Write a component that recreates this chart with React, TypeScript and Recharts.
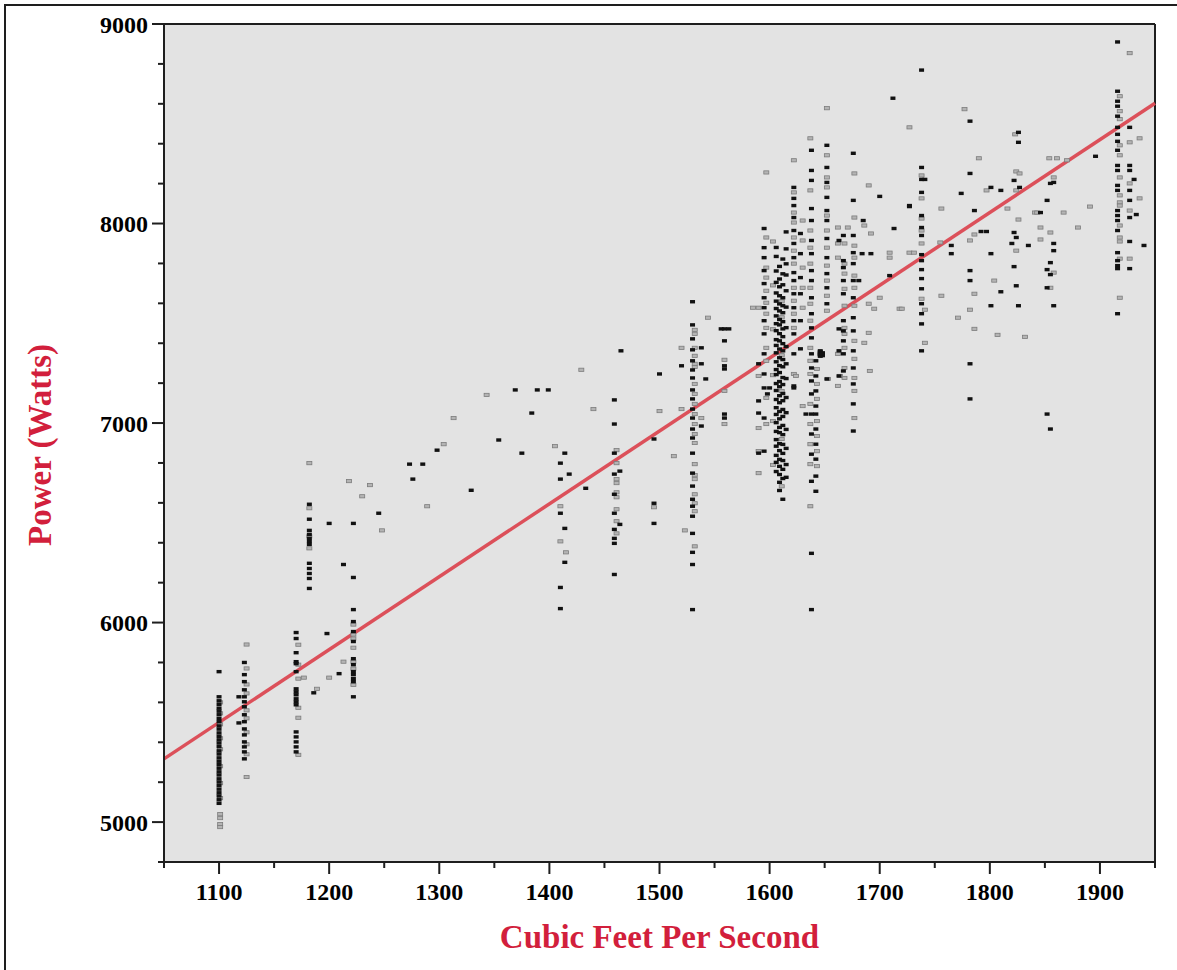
import React from 'react';
import { ScatterChart, Scatter, XAxis, YAxis, CartesianGrid, ReferenceLine, Label } from 'recharts';

// ---- axes ----
const X_TICKS = [1050, 1100, 1150, 1200, 1250, 1300, 1350, 1400, 1450, 1500, 1550, 1600, 1650, 1700, 1750, 1800, 1850, 1900, 1950];
const Y_TICKS = [4800, 5000, 5200, 5400, 5600, 5800, 6000, 6200, 6400, 6600, 6800, 7000, 7200, 7400, 7600, 7800, 8000, 8200, 8400, 8600, 8800, 9000];
const X_DOMAIN = [1050, 1950];
const Y_DOMAIN = [4800, 9000];

// ---- fitted regression line ----
const FIT_LINE = [
  { x: 1050, y: 5317 },
  { x: 1950, y: 8603 },
];

// ---- data columns (flow value, power readings) ----
type Col = [number, number[]];

const c1100 = [5754, 5628, 5608, 5590, 5571, 5556, 5538, 5519, 5503, 5482, 5466, 5447, 5430, 5412, 5396, 5378, 5357, 5341, 5322, 5305, 5288, 5270, 5252, 5236, 5217, 5201, 5183, 5165, 5147, 5131, 5112, 5094];
const c1101L = [5600, 5545, 5490, 5420, 5365, 5280, 5195, 5120, 5040, 5020, 4990, 4975];
const c1123 = [5800, 5739, 5704, 5663, 5628, 5603, 5578, 5538, 5503, 5467, 5437, 5402, 5377, 5352, 5317];
const c1125L = [5890, 5770, 5690, 5645, 5560, 5520, 5450, 5390, 5340, 5226];
const c1118 = [5628, 5497];
const c1170 = [5950, 5920, 5849, 5804, 5794, 5754, 5668, 5653, 5638, 5618, 5603, 5588, 5452, 5427, 5402, 5377, 5352];
const c1172L = [5889, 5789, 5719, 5573, 5523, 5337];
const c1182 = [6593, 6518, 6462, 6442, 6422, 6407, 6392, 6297, 6271, 6246, 6221, 6171];
const c1182L = [6799, 6573, 6372, 6432];
const c1222 = [6497, 6226, 6065, 6005, 5955, 5905, 5819, 5789, 5754, 5739, 5719, 5704, 5628];
const c1222L = [5990, 5940, 5920, 5874, 5804, 5769, 5688];
const c1410 = [6799, 6719, 6548, 6176, 6070];
const c1410L = [6583, 6407];
const c1414 = [6849, 6472, 6302];
const c1459 = [7116, 6995, 6849, 6744, 6643, 6548, 6422, 6397, 6241, 6467];
const c1461L = [6864, 6799, 6719, 6699, 6653, 6628, 6568, 6508, 6447];
const c1464 = [6759, 6492];
const c1530 = [7608, 7492, 7422, 7367, 7312, 7266, 7226, 7166, 7121, 7070, 7025, 6970, 6925, 6849, 6749, 6684, 6618, 6583, 6533, 6447, 6352, 6291, 6065];
const c1532L = [7467, 7447, 7377, 7337, 7297, 7281, 7196, 7146, 7096, 7045, 6995, 6945, 6900, 6794, 6739, 6719, 6643, 6598, 6558, 6382];
const c1559 = [7472, 7412, 7287, 7271, 7045, 7025];
const c1559L = [7317, 7161, 6995];
const c1590 = [7297, 7111, 7050, 6849];
const c1590L = [7578, 7236, 6975, 6859, 6749];
const c1595 = [7975, 7879, 7829, 7764, 7699, 7628, 7578, 7513, 7447, 7347, 7246, 7176, 7025, 6859];
const c1597L = [8256, 7930, 7779, 7729, 7663, 7603, 7548, 7477, 7377, 7312, 7126, 6995];
const c1603L = [7910, 7690, 7470, 7240, 7010, 6790];
const c1606 = [7880, 7835, 7762, 7705, 7652, 7611, 7574, 7537, 7498, 7463, 7418, 7389, 7352, 7307, 7268, 7243, 7198, 7163, 7118, 7077, 7043, 7002, 6958, 6917, 6884, 6838, 6803, 6757];
const c1609 = [7785, 7722, 7683, 7638, 7597, 7562, 7519, 7492, 7448, 7412, 7371, 7327, 7288, 7253, 7208, 7182, 7137, 7102, 7058, 7021, 6978, 6952, 6897, 6862, 6818, 6783, 6742, 6703, 6662];
const c1612 = [7822, 7748, 7693, 7628, 7588, 7553, 7508, 7472, 7433, 7398, 7362, 7318, 7282, 7228, 7193, 7148, 7112, 7068, 7033, 6988, 6942, 6893, 6848, 6812, 6768, 6722, 6618];
const c1611L = [7610, 7530, 7340, 7160, 6920, 6683];
const c1615 = [7958, 7873, 7798, 7742, 7663, 7581, 7478, 7383, 7297, 7223, 7128, 7052, 6968, 6873, 6792, 6728];
const c1622 = [8181, 8126, 8090, 8030, 7965, 7900, 7829, 7754, 7714, 7648, 7578, 7513, 7447, 7347, 7176];
const c1622L = [8317, 8156, 8055, 8005, 7930, 7864, 7799, 7678, 7613, 7548, 7477, 7246];
const c1628 = [7950, 7849, 7729, 7648, 7513, 7372];
const c1630L = [8015, 7915, 7779, 7678, 7578, 7085];
const c1638 = [8367, 8266, 8216, 8075, 8015, 7915, 7849, 7764, 7714, 7628, 7548, 7477, 7427, 7347, 7276, 7211, 7146, 7045, 6945, 6844, 6708, 6347, 6065];
const c1637L = [8427, 8166, 7965, 7879, 7799, 7678, 7598, 7513, 7377, 7312, 7246, 7096, 6995, 6894, 6794, 6583];
const c1642 = [7312, 7236, 7161, 7085, 7045, 6970, 6894, 6819, 6734, 6658];
const c1643L = [7271, 7196, 7121, 7010, 6935, 6859, 6784];
const c1646 = [7335, 7342, 7350, 7357, 7345, 7362];
const c1648 = [7338, 7352, 7346];
const c1652 = [8392, 8281, 8206, 8131, 8065, 8015, 7925, 7829, 7749, 7678, 7598, 7221];
const c1652L = [8578, 8342, 8231, 8181, 8040, 7965, 7879, 7789, 7714, 7638, 7563];
const c1663 = [7915, 7472, 7362, 7236];
const c1662L = [7900, 7829, 7347, 7186, 7980];
const c1667 = [7940, 7814, 7779, 7714, 7648, 7513, 7462, 7412, 7347, 7261];
const c1668L = [7900, 7799, 7749, 7673, 7588, 7477, 7447, 7377, 7276, 7226];
const c1676 = [8352, 8116, 7940, 7854, 7799, 7714, 7628, 7528, 7462, 7362, 7276, 7196, 7096, 6960];
const c1677L = [8251, 8030, 7889, 7829, 7739, 7678, 7588, 7412, 7322, 7226, 7161, 7025];
const c1738 = [8769, 8281, 8221, 8156, 8040, 7980, 7940, 7844, 7814, 7769, 7724, 7673, 7598, 7548, 7497, 7362];
const c1738L = [8241, 8126, 8025, 7965, 7900, 7623];
const c1741L = [7568, 7402];
const c1916 = [8910, 8663, 8613, 8588, 8538, 8482, 8447, 8412, 8367, 8291, 8266, 8191, 8166, 8065, 8040, 8015, 7965, 7854, 7814, 7789, 7774, 7548];
const c1918L = [8638, 8563, 8523, 8392, 8342, 8231, 8141, 8106, 8090, 7990, 7930, 7910, 7824, 7628];
const c1927 = [8482, 8291, 8266, 8166, 8116, 8030, 7910, 7774];
const c1927L = [8854, 8407, 8201, 8065, 7824];

const darkCols: Col[] = [
  [1100, c1100], [1123, c1123], [1118, c1118], [1170, c1170], [1182, c1182], [1222, c1222],
  [1410, c1410], [1414, c1414], [1459, c1459], [1464, c1464], [1530, c1530], [1559, c1559],
  [1590, c1590], [1595, c1595], [1606, c1606], [1609, c1609], [1612, c1612], [1615, c1615], [1622, c1622],
  [1628, c1628], [1638, c1638], [1642, c1642], [1646, c1646], [1648, c1648], [1652, c1652],
  [1663, c1663], [1667, c1667], [1676, c1676], [1738, c1738], [1916, c1916], [1927, c1927],
];
const lightCols: Col[] = [
  [1101, c1101L], [1125, c1125L], [1172, c1172L], [1182, c1182L], [1222, c1222L], [1410, c1410L],
  [1461, c1461L], [1532, c1532L], [1559, c1559L], [1590, c1590L], [1597, c1597L], [1603, c1603L],
  [1611, c1611L], [1622, c1622L], [1630, c1630L], [1637, c1637L], [1643, c1643L], [1652, c1652L],
  [1662, c1662L], [1668, c1668L], [1677, c1677L], [1738, c1738L], [1741, c1741L], [1918, c1918L],
  [1927, c1927L],
];

// scattered single readings [flow, power]
const darkSingles: [number, number][] = [
  [1198, 5945], [1200, 6497], [1213, 6291], [1245, 6548], [1273, 6794], [1285, 6794], [1276, 6719], [1209, 5744], [1186, 5648],
  [1298, 6864], [1329, 6663], [1354, 6915], [1369, 7166], [1375, 6849], [1384, 7050], [1389, 7166], [1399, 7166], [1418, 6744], [1433, 6673],
  [1465, 7362], [1495, 6598], [1495, 6497], [1500, 7246], [1495, 6920], [1520, 7287],
  [1538, 7377], [1538, 7297], [1542, 7221], [1538, 6985], [1556, 7472], [1563, 7472],
  [1600, 7176], [1598, 7146], [1622, 7186], [1633, 7045],
  [1700, 8136], [1685, 8015], [1684, 7849], [1692, 7849], [1713, 7975], [1709, 7739], [1681, 7714], [1727, 8090], [1712, 8628], [1727, 8085], [1741, 8221],
  [1765, 7890], [1765, 7849], [1774, 8151], [1782, 8513], [1782, 8251], [1782, 7764], [1782, 7714], [1782, 7297], [1782, 7121], [1786, 8065],
  [1792, 7960], [1797, 7960], [1801, 8181], [1801, 7849], [1801, 7588], [1810, 8166], [1810, 7658], [1820, 7900], [1822, 8216], [1822, 7955],
  [1822, 7784], [1826, 8457], [1826, 8407], [1827, 8181], [1824, 7930], [1824, 7688], [1826, 7588], [1835, 7890], [1846, 8055],
  [1852, 8116], [1855, 8201], [1858, 8206], [1858, 7900], [1858, 7864], [1855, 7804], [1852, 7769], [1855, 7744], [1852, 7678], [1858, 7588],
  [1852, 7045], [1855, 6970], [1896, 8337], [1931, 8221], [1933, 8045], [1940, 7890],
];
const lightSingles: [number, number][] = [
  [1218, 6709], [1230, 6633], [1237, 6689], [1248, 6462], [1289, 6583], [1177, 5724], [1189, 5668], [1200, 5724], [1213, 5804],
  [1304, 6894], [1313, 7025], [1343, 7141], [1405, 6884], [1415, 6352], [1429, 7267], [1440, 7070],
  [1495, 6578], [1500, 7060], [1513, 6834], [1520, 7070], [1520, 7377], [1523, 6462], [1538, 7025], [1544, 7528], [1585, 7578],
  [1624, 7236], [1653, 7221], [1671, 7980], [1664, 7236],
  [1690, 8191], [1686, 7990], [1692, 7950], [1709, 7854], [1709, 7829], [1718, 7573], [1695, 7573], [1690, 7598], [1700, 7628],
  [1690, 7452], [1686, 7402], [1691, 7261], [1727, 8482], [1727, 7854], [1720, 7573], [1731, 7854],
  [1756, 8075], [1756, 7638], [1755, 7905], [1771, 7528], [1777, 8573], [1782, 7915], [1782, 7568], [1786, 7945], [1786, 7648],
  [1786, 7472], [1790, 8327], [1797, 8166], [1804, 7714], [1807, 7442], [1816, 8075], [1823, 8447], [1824, 8261], [1827, 8251],
  [1824, 8166], [1826, 8020], [1824, 7864], [1832, 7432], [1841, 8055], [1843, 8055], [1846, 7980], [1846, 7920], [1854, 8327],
  [1861, 8327], [1858, 8231], [1855, 7955], [1858, 7754], [1855, 7678], [1867, 8055], [1870, 8317], [1880, 7980], [1891, 8085],
  [1936, 8427], [1936, 8126],
];

const toPoints = (cols: Col[], singles: [number, number][]) => [
  ...cols.flatMap(([x, ys]) => ys.map((y) => ({ x, y }))),
  ...singles.map(([x, y]) => ({ x, y })),
];
const darkData = toPoints(darkCols, darkSingles);
const lightData = toPoints(lightCols, lightSingles);

const SERIF = '"Liberation Serif", "Times New Roman", serif';
const TITLE_RED = '#d21f3c';
const AXIS = '#1e1e1e';

const XTick = (props: any) => {
  const { x, y, payload } = props;
  const major = payload.value % 100 === 0;
  return (
    <g>
      <line x1={x} x2={x} y1={y} y2={y + (major ? 12 : 6)} stroke={AXIS} strokeWidth={2} />
      {major && (
        <text x={x} y={y + 38} textAnchor="middle" fontFamily={SERIF} fontWeight="bold" fontSize={24} fill="#000">
          {payload.value}
        </text>
      )}
    </g>
  );
};

const YTick = (props: any) => {
  const { x, y, payload } = props;
  const major = payload.value % 1000 === 0;
  return (
    <g>
      <line x1={x - (major ? 12 : 6)} x2={x} y1={y} y2={y} stroke={AXIS} strokeWidth={2} />
      {major && (
        <text x={x - 16} y={y + 8.5} textAnchor="end" fontFamily={SERIF} fontWeight="bold" fontSize={24} fill="#000">
          {payload.value}
        </text>
      )}
    </g>
  );
};

const DarkDot = (p: any) => <rect x={p.cx - 2.5} y={p.cy - 1.7} width={5} height={3.4} fill="#111" />;
const LightDot = (p: any) => (
  <rect x={p.cx - 2.5} y={p.cy - 1.6} width={5} height={3.2} fill="#b4b4b4" stroke="#7c7c7c" strokeWidth={0.8} />
);

const YTitle = (props: any) => {
  const vb = props.viewBox || { y: 24, height: 838 };
  const cx = 40;
  const cy = vb.y + vb.height / 2 + 2;
  return (
    <text x={cx} y={cy} transform={`rotate(-90 ${cx} ${cy})`} textAnchor="middle" dominantBaseline="central"
      fontFamily={SERIF} fontWeight="bold" fontSize={33} fill={TITLE_RED}>
      Power (Watts)
    </text>
  );
};

const XTitle = (props: any) => {
  const vb = props.viewBox || { x: 164, width: 991, y: 862 };
  const cx = vb.x + vb.width / 2;
  return (
    <text x={cx} y={948} textAnchor="middle" fontFamily={SERIF} fontWeight="bold" fontSize={33} fill={TITLE_RED}>
      Cubic Feet Per Second
    </text>
  );
};

export default function App() {
  return (
    <div style={{ position: 'absolute', left: 0, top: 0, width: 1177, height: 970, background: '#fff', overflow: 'hidden' }}>
      <div style={{ position: 'absolute', left: 4, top: 4, width: 1190, height: 980, borderTop: `2px solid ${AXIS}`, borderLeft: `2px solid ${AXIS}` }} />
      <div style={{ position: 'absolute', left: 0, top: 0 }}>
        <ScatterChart width={1177} height={970} margin={{ top: 24, right: 22, bottom: 0, left: 0 }}>
          <CartesianGrid fill="#e3e3e3" horizontal={false} vertical={false} stroke="none" />
          <XAxis
            type="number"
            dataKey="x"
            domain={X_DOMAIN}
            ticks={X_TICKS}
            interval={0}
            allowDataOverflow
            height={108}
            tickSize={0}
            tickMargin={0}
            tick={<XTick />}
            axisLine={{ stroke: AXIS, strokeWidth: 2 }}
          >
            <Label content={<XTitle />} />
          </XAxis>
          <YAxis
            type="number"
            dataKey="y"
            domain={Y_DOMAIN}
            ticks={Y_TICKS}
            interval={0}
            allowDataOverflow
            width={164}
            tickSize={0}
            tickMargin={0}
            tick={<YTick />}
            axisLine={{ stroke: AXIS, strokeWidth: 2 }}
          >
            <Label content={<YTitle />} />
          </YAxis>
          <ReferenceLine y={9000} stroke={AXIS} strokeWidth={2} />
          <ReferenceLine x={1950} stroke={AXIS} strokeWidth={2} />
          <Scatter data={lightData} shape={<LightDot />} isAnimationActive={false} />
          <Scatter data={darkData} shape={<DarkDot />} isAnimationActive={false} />
          <ReferenceLine segment={FIT_LINE} stroke="#dc505a" strokeWidth={3.5} />
        </ScatterChart>
      </div>
    </div>
  );
}
